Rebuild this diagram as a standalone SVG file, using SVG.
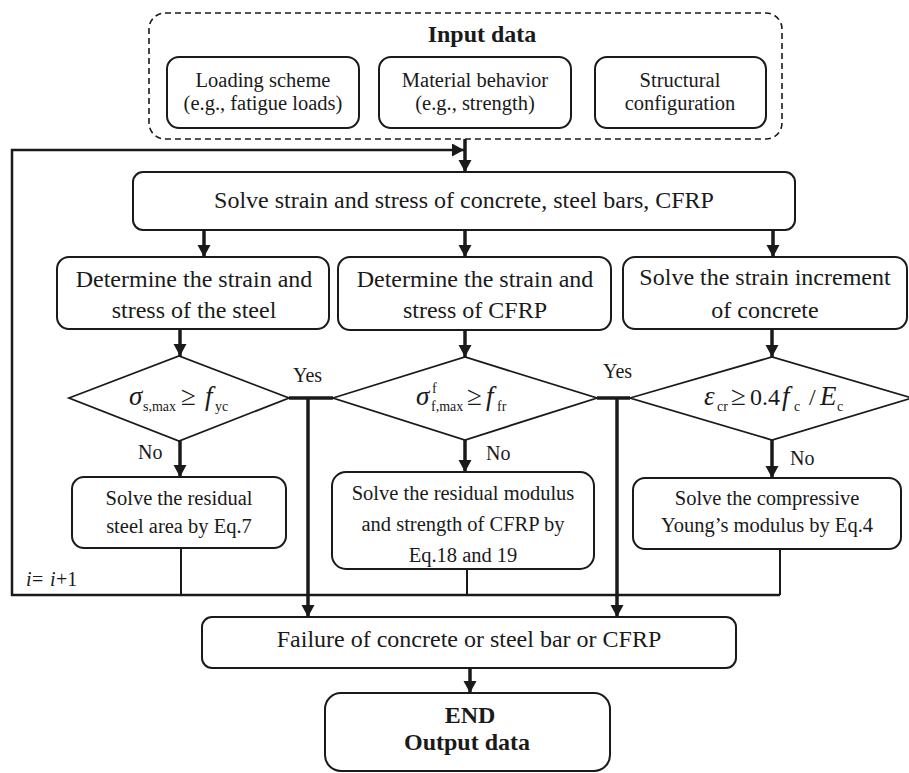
<svg xmlns="http://www.w3.org/2000/svg" width="909" height="773" viewBox="0 0 909 773">
<defs>
<style>
.bx{fill:#fff;stroke:#1a1a1a;stroke-width:2}
.dm{fill:#fff;stroke:#1a1a1a;stroke-width:1.8}
.t{font-family:"Liberation Serif","Times New Roman",Times,serif;fill:#1a1a1a;text-anchor:middle}
.s20{font-size:20.5px}
.s24{font-size:24px}
.b{font-weight:bold}
.lbl{font-family:"Liberation Serif","Times New Roman",Times,serif;fill:#1a1a1a;font-size:20px}
.m{font-family:"Liberation Serif","Times New Roman",Times,serif;fill:#1a1a1a;font-size:27px}
.it{font-style:italic}
.sub{font-size:14px}
.num{font-size:24px}
.ar{stroke:#1a1a1a;stroke-width:3.5;fill:none}
.ln{stroke:#1a1a1a;stroke-width:2;fill:none}
.lp{stroke:#1a1a1a;stroke-width:2.5;fill:none}
</style>
<marker id="ah" markerUnits="userSpaceOnUse" markerWidth="14" markerHeight="14" refX="12" refY="6.5" orient="auto">
<path d="M0,0 L12,6.5 L0,13 z" fill="#1a1a1a"/>
</marker>
</defs>
<rect width="909" height="773" fill="#fff"/>

<g id="input">
<rect x="149" y="13" width="633" height="126" rx="16" fill="none" stroke="#1a1a1a" stroke-width="1.6" stroke-dasharray="6,4"/>
<text class="t s24 b" x="482" y="42">Input data</text>
</g>
<g id="loading">
<rect class="bx" x="167" y="57" width="192" height="71" rx="12"/>
<text class="t s20" x="263" y="87">Loading scheme</text>
<text class="t s20" x="263" y="110">(e.g., fatigue loads)</text>
</g>
<g id="material">
<rect class="bx" x="379" y="57" width="192" height="71" rx="12"/>
<text class="t s20" x="475" y="87">Material behavior</text>
<text class="t s20" x="475" y="110">(e.g., strength)</text>
</g>
<g id="structural">
<rect class="bx" x="595" y="57" width="171" height="71" rx="12"/>
<text class="t s20" x="680" y="87">Structural</text>
<text class="t s20" x="680" y="110">configuration</text>
</g>

<g id="solve">
<rect class="bx" x="133" y="172" width="662" height="58" rx="10"/>
<text class="t s24" x="464" y="208">Solve strain and stress of concrete, steel bars, CFRP</text>
</g>

<g id="steel">
<rect class="bx" x="57" y="257" width="272" height="72" rx="12"/>
<text class="t s24" x="194" y="287">Determine the strain and</text>
<text class="t s24" x="194" y="318">stress of the steel</text>
</g>
<g id="cfrp">
<rect class="bx" x="338" y="257" width="273" height="73" rx="12"/>
<text class="t s24" x="475" y="287">Determine the strain and</text>
<text class="t s24" x="475" y="318">stress of CFRP</text>
</g>
<g id="concrete">
<rect class="bx" x="623" y="257" width="284" height="72" rx="12"/>
<text class="t s24" x="765" y="285">Solve the strain increment</text>
<text class="t s24" x="765" y="318">of concrete</text>
</g>

<g id="d1">
<polygon class="dm" points="69,398 179,356 289,398 179,441"/>
<text class="m"><tspan class="it" x="129" y="405">σ</tspan><tspan class="sub" x="143" y="411">s,max</tspan><tspan x="181" y="405">≥</tspan><tspan class="it" x="205" y="405">f</tspan><tspan class="sub" x="215" y="411">yc</tspan></text>
</g>
<g id="d2">
<polygon class="dm" points="333,398 465,357 597,398 465,440"/>
<text class="m"><tspan class="it" x="416" y="405">σ</tspan><tspan class="sub" x="432" y="393">f</tspan><tspan class="sub" x="431" y="411">f,max</tspan><tspan x="467" y="405">≥</tspan><tspan class="it" x="486" y="405">f</tspan><tspan class="sub" x="497" y="411">fr</tspan></text>
</g>
<g id="d3">
<polygon class="dm" points="630,398 772,357 912,398 772,440"/>
<text class="m"><tspan class="it" x="704" y="405">ε</tspan><tspan class="sub" x="717" y="411">cr</tspan><tspan x="731" y="405">≥</tspan><tspan class="num" x="750" y="405">0.4</tspan><tspan class="it" x="782" y="405">f</tspan><tspan class="sub" x="794" y="411">c</tspan><tspan class="num" x="809" y="405">/</tspan><tspan class="it" x="820" y="405">E</tspan><tspan class="sub" x="837" y="411">c</tspan></text>
</g>

<g id="residual-steel">
<rect class="bx" x="72" y="477" width="214" height="71" rx="12"/>
<text class="t s20" x="179" y="505">Solve the residual</text>
<text class="t s20" x="179" y="533">steel area by Eq.7</text>
</g>
<g id="residual-cfrp">
<rect class="bx" x="332" y="472" width="262" height="97" rx="14"/>
<text class="t s20" x="463" y="500">Solve the residual modulus</text>
<text class="t s20" x="463" y="531">and strength of CFRP by</text>
<text class="t s20" x="463" y="562">Eq.18 and 19</text>
</g>
<g id="young">
<rect class="bx" x="633" y="478" width="268" height="71" rx="12"/>
<text class="t s20" x="767" y="505">Solve the compressive</text>
<text class="t s20" x="767" y="532">Young’s modulus by Eq.4</text>
</g>

<g id="failure">
<rect class="bx" x="202" y="617" width="534" height="51" rx="10"/>
<text class="t s24" x="469" y="647">Failure of concrete or steel bar or CFRP</text>
</g>
<g id="end">
<rect class="bx" x="325" y="693" width="285" height="78" rx="16"/>
<text class="t s24 b" x="470" y="723">END</text>
<text class="t s24 b" x="467" y="750">Output data</text>
</g>

<g id="connectors">
<line class="ar" x1="465" y1="139" x2="465" y2="172" marker-end="url(#ah)"/>
<line class="ar" x1="204" y1="230" x2="204" y2="257" marker-end="url(#ah)"/>
<line class="ar" x1="465" y1="230" x2="465" y2="257" marker-end="url(#ah)"/>
<line class="ar" x1="773" y1="230" x2="773" y2="257" marker-end="url(#ah)"/>
<line class="ar" x1="180" y1="329" x2="180" y2="356" marker-end="url(#ah)"/>
<line class="ar" x1="465" y1="330" x2="465" y2="357" marker-end="url(#ah)"/>
<line class="ar" x1="772" y1="329" x2="772" y2="357" marker-end="url(#ah)"/>
<line class="ar" x1="180" y1="441" x2="180" y2="477" marker-end="url(#ah)"/>
<line class="ar" x1="465" y1="440" x2="465" y2="472" marker-end="url(#ah)"/>
<line class="ar" x1="772" y1="440" x2="772" y2="478" marker-end="url(#ah)"/>
<line class="ar" x1="289" y1="398" x2="333" y2="398"/>
<line class="ar" x1="597" y1="398" x2="630" y2="398"/>
<line class="ar" x1="308" y1="398" x2="308" y2="617" stroke-width="4" marker-end="url(#ah)"/>
<line class="ar" x1="617" y1="398" x2="617" y2="617" stroke-width="4" marker-end="url(#ah)"/>
<line class="ar" x1="470" y1="668" x2="470" y2="693" marker-end="url(#ah)"/>
<line class="ln" x1="181" y1="548" x2="181" y2="595"/>
<line class="ln" x1="467" y1="569" x2="467" y2="595"/>
<line class="ln" x1="780" y1="549" x2="780" y2="595"/>
<polyline class="lp" points="780,595 12,595 12,150 464,150" marker-end="url(#ah)"/>
<text class="lbl" x="293" y="382">Yes</text>
<text class="lbl" x="603" y="378">Yes</text>
<text class="lbl" x="138" y="459">No</text>
<text class="lbl" x="486" y="460">No</text>
<text class="lbl" x="790" y="465">No</text>
<text class="lbl"><tspan class="it" x="26" y="586">i</tspan><tspan x="32" y="586">=</tspan><tspan class="it" x="50" y="586">i</tspan><tspan x="56" y="586">+1</tspan></text>
</g>
</svg>
